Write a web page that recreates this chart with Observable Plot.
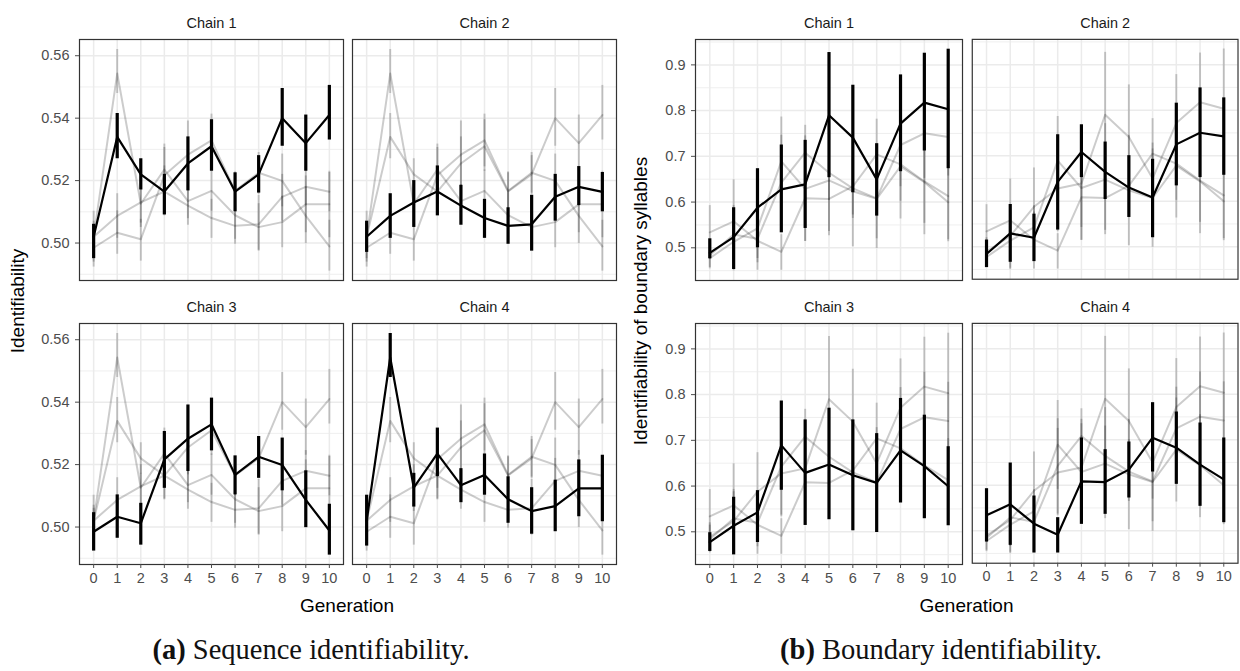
<!DOCTYPE html>
<html><head><meta charset="utf-8">
<script src="https://cdn.jsdelivr.net/npm/d3@7"></script>
<script src="https://cdn.jsdelivr.net/npm/@observablehq/plot@0.6"></script>
<style>
body{margin:0;background:#fff;width:1240px;height:671px;overflow:hidden;font-family:"Liberation Sans",Arial,sans-serif;}
#root{position:relative;width:1240px;height:671px;}
.panel{position:absolute;}
.panel svg{overflow:visible;}
.ytitle{position:absolute;transform:translate(-50%,-50%) rotate(-90deg);white-space:nowrap;font-size:19px;color:#000;line-height:1;}
.xtitle{position:absolute;transform:translate(-50%,-50%);white-space:nowrap;font-size:19px;color:#000;line-height:1;}
.caption{position:absolute;transform:translateX(-50%);font-family:"Liberation Serif","DejaVu Serif",serif;font-size:28.5px;white-space:nowrap;line-height:30px;color:#111;}
</style></head>
<body><div id="root"></div>
<script>
const generations = [0,1,2,3,4,5,6,7,8,9,10];
const chainLabels = ["Chain 1","Chain 2","Chain 3","Chain 4"];

// (a) Sequence identifiability: mean, lower, upper per chain
const seqMean = [
  [0.502,0.534,0.522,0.5165,0.5255,0.531,0.5165,0.522,0.540,0.532,0.541],
  [0.502,0.5087,0.513,0.5165,0.512,0.508,0.5055,0.506,0.5148,0.518,0.5164],
  [0.4985,0.5033,0.5012,0.5217,0.5283,0.5329,0.5167,0.5225,0.5199,0.5087,0.4989],
  [0.502,0.5543,0.5126,0.5235,0.5134,0.5167,0.5089,0.5051,0.5067,0.5124,0.5124]
];
const seqLo = [
  [0.495,0.527,0.517,0.509,0.5167,0.523,0.510,0.516,0.531,0.523,0.533],
  [0.497,0.5015,0.505,0.5087,0.5057,0.5015,0.4996,0.4974,0.507,0.512,0.510],
  [0.4923,0.4964,0.4942,0.5124,0.5178,0.5244,0.5103,0.5156,0.5116,0.4998,0.491],
  [0.4939,0.5479,0.5064,0.5162,0.5078,0.5102,0.5012,0.4977,0.4985,0.5033,0.5017]
];
const seqHi = [
  [0.506,0.5415,0.527,0.522,0.534,0.5395,0.5225,0.528,0.5495,0.541,0.5505],
  [0.507,0.5158,0.520,0.5247,0.5185,0.514,0.5113,0.5153,0.522,0.5245,0.5226],
  [0.5046,0.5103,0.5076,0.5306,0.5391,0.5413,0.5228,0.529,0.5285,0.518,0.5073],
  [0.5102,0.562,0.5172,0.5317,0.5187,0.5234,0.5161,0.5126,0.515,0.5215,0.523]
];
const seqTicks = [0.50,0.52,0.54,0.56];
const seqMinor = [0.49,0.51,0.53,0.55];

// (b) Boundary identifiability: mean, lower, upper per chain
const bndMean = [
  [0.489,0.5234,0.5876,0.6277,0.6387,0.7898,0.7409,0.6496,0.7715,0.8175,0.8029],
  [0.4839,0.5292,0.5197,0.6423,0.708,0.6642,0.6299,0.608,0.7248,0.7504,0.7423],
  [0.4773,0.5132,0.5425,0.689,0.6289,0.6473,0.6238,0.6069,0.678,0.6436,0.5996],
  [0.5337,0.5579,0.5154,0.4912,0.6084,0.6069,0.6341,0.7044,0.6824,0.6451,0.6128]
];
const bndLo = [
  [0.476,0.4526,0.500,0.5328,0.5423,0.6533,0.6204,0.5693,0.6664,0.7117,0.673],
  [0.454,0.4657,0.4672,0.5365,0.6518,0.6036,0.5642,0.5197,0.6336,0.6518,0.6569],
  [0.457,0.4495,0.4766,0.5908,0.5139,0.5264,0.5022,0.4985,0.563,0.5286,0.5132],
  [0.4751,0.4678,0.4509,0.4509,0.5139,0.5359,0.5718,0.6289,0.6018,0.5535,0.5176]
];
const bndHi = [
  [0.5197,0.5876,0.673,0.7248,0.735,0.927,0.8555,0.7277,0.8781,0.9255,0.9343],
  [0.5146,0.5927,0.5715,0.746,0.7679,0.7299,0.700,0.692,0.8153,0.8489,0.827],
  [0.498,0.5755,0.590,0.786,0.7447,0.7703,0.7447,0.7147,0.7916,0.755,0.6861],
  [0.5923,0.6487,0.5762,0.5286,0.7037,0.678,0.6949,0.7813,0.7608,0.7366,0.7037]
];
const bndTicks = [0.5,0.6,0.7,0.8,0.9];
const bndMinor = [0.45,0.55,0.65,0.75,0.85,0.95];

function buildRows(mean, lo, hi){
  const rows = [];
  for (let c = 0; c < 4; c++) for (let i = 0; i < generations.length; i++)
    rows.push({chain: c, gen: generations[i], mean: mean[c][i], lo: lo[c][i], hi: hi[c][i]});
  return rows;
}

const root = document.getElementById("root");
const ML = 48, MR = 3, MT = 26, MB = 28;

function drawPanel(cfg){
  const {x0, y0, pw, ph, chain, rows, ydomain, yticks, yminor, yfmt, showX, showY} = cfg;
  const others = rows.filter(d => d.chain !== chain);
  const focus = rows.filter(d => d.chain === chain);
  const grid = {stroke: "#ebebeb", strokeOpacity: 1};
  const p = Plot.plot({
    width: pw + ML + MR, height: ph + MT + MB,
    marginLeft: ML, marginRight: MR, marginTop: MT, marginBottom: MB,
    style: {background: "transparent", fontFamily: "Liberation Sans, Arial, sans-serif", overflow: "visible"},
    x: {domain: [-0.6, 10.6], axis: null, label: null},
    y: {domain: ydomain, axis: null, label: null},
    marks: [
      Plot.frame({fill: "white"}),
      Plot.gridY(yminor, {...grid, strokeWidth: 0.8}),
      Plot.gridY(yticks, {...grid, strokeWidth: 1.5}),
      Plot.gridX(generations, {...grid, strokeWidth: 1.5}),
      Plot.line(others, {x: "gen", y: "mean", z: "chain", stroke: "black", strokeOpacity: 0.2, strokeWidth: 2}),
      Plot.ruleX(others, {x: "gen", y1: "lo", y2: "hi", stroke: "black", strokeOpacity: 0.2, strokeWidth: 2}),
      Plot.line(focus, {x: "gen", y: "mean", stroke: "black", strokeWidth: 2.2}),
      Plot.ruleX(focus, {x: "gen", y1: "lo", y2: "hi", stroke: "black", strokeWidth: 3.2}),
      Plot.frame({stroke: "#333", strokeWidth: 1.2}),
      Plot.text([chainLabels[chain]], {frameAnchor: "top", lineAnchor: "middle", dy: -16, text: d => d, fontSize: 14.5, fill: "#1a1a1a"}),
      showY ? Plot.axisY(yticks, {tickFormat: yfmt, tickSize: 4, tickPadding: 6, fontSize: 14.5, color: "#4d4d4d", label: null}) : null,
      showX ? Plot.axisX(generations, {tickSize: 4, tickPadding: 4, fontSize: 14.5, color: "#4d4d4d", label: null}) : null
    ]
  });
  const div = document.createElement("div");
  div.className = "panel";
  div.style.left = (x0 - ML) + "px";
  div.style.top = (y0 - MT) + "px";
  div.appendChild(p);
  root.appendChild(div);
}

function drawFigure(fig){
  const rows = buildRows(fig.mean, fig.lo, fig.hi);
  for (let c = 0; c < 4; c++){
    const col = c % 2, row = Math.floor(c / 2);
    drawPanel({
      x0: fig.cols[col], y0: fig.rows[row], pw: fig.pw, ph: fig.ph, chain: c, rows,
      ydomain: fig.ydomain, yticks: fig.yticks, yminor: fig.yminor, yfmt: fig.yfmt,
      showX: row === 1, showY: col === 0
    });
  }
}

drawFigure({mean: seqMean, lo: seqLo, hi: seqHi, cols: [79, 351.5], rows: [38.5, 322.5], pw: 264, ph: 241,
  ydomain: [0.488, 0.5652], yticks: seqTicks, yminor: seqMinor, yfmt: d3.format(".2f")});
drawFigure({mean: bndMean, lo: bndLo, hi: bndHi, cols: [694.5, 971.5], rows: [38.5, 322.5], pw: 267, ph: 241,
  ydomain: [0.4285, 0.9555], yticks: bndTicks, yminor: bndMinor, yfmt: d3.format(".1f")});

function addText(cls, html, x, y){
  const d = document.createElement("div");
  d.className = cls; d.innerHTML = html;
  d.style.left = x + "px"; d.style.top = y + "px";
  root.appendChild(d);
}
addText("ytitle", "Identifiability", 17, 301);
addText("ytitle", "Identifiability of boundary syllables", 640, 301);
addText("xtitle", "Generation", 347, 605);
addText("xtitle", "Generation", 966.5, 605);
addText("caption", "<b>(a)</b> Sequence identifiability.", 311, 635);
addText("caption", "<b>(b)</b> Boundary identifiability.", 941, 635);
</script>
</body></html>
